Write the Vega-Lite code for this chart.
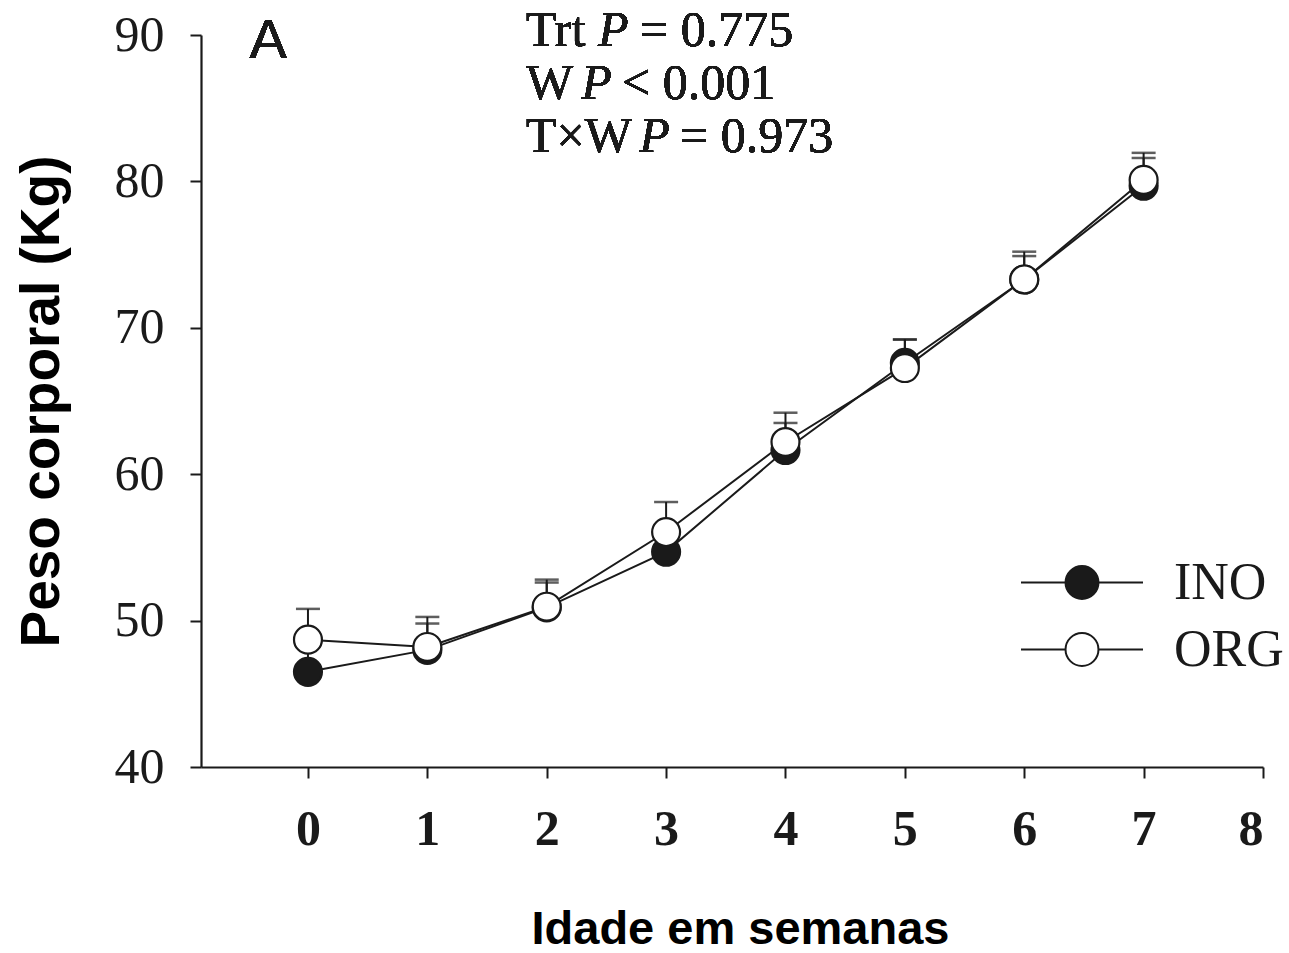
{
  "$schema": "https://vega.github.io/schema/vega-lite/v6.json",
  "width": 1062,
  "height": 732,
  "autosize": {"type": "none"},
  "padding": {"left": 201, "top": 35, "right": 26, "bottom": 186},
  "background": "white",
  "config": {
    "view": {"stroke": null},
    "axis": {"grid": false, "domainColor": "#1a1a1a", "tickColor": "#1a1a1a", "domainWidth": 2.2, "tickWidth": 2, "labelColor": "#1a1a1a", "titleColor": "#000000"}
  },
  "data": {
    "values": [
      {"week": 0, "group": "INO", "mean": 46.5, "upper": 48.3},
      {"week": 1, "group": "INO", "mean": 48.0, "upper": 49.8},
      {"week": 2, "group": "INO", "mean": 50.9, "upper": 52.6},
      {"week": 3, "group": "INO", "mean": 54.7, "upper": 56.5},
      {"week": 4, "group": "INO", "mean": 61.65, "upper": 63.5},
      {"week": 5, "group": "INO", "mean": 67.6, "upper": 69.2},
      {"week": 6, "group": "INO", "mean": 73.3, "upper": 74.9},
      {"week": 7, "group": "INO", "mean": 79.7, "upper": 81.6},
      {"week": 0, "group": "ORG", "mean": 48.7, "upper": 50.8},
      {"week": 1, "group": "ORG", "mean": 48.2, "upper": 50.25},
      {"week": 2, "group": "ORG", "mean": 50.95, "upper": 52.8},
      {"week": 3, "group": "ORG", "mean": 56.05, "upper": 58.1},
      {"week": 4, "group": "ORG", "mean": 62.2, "upper": 64.2},
      {"week": 5, "group": "ORG", "mean": 67.25, "upper": 69.2},
      {"week": 6, "group": "ORG", "mean": 73.3, "upper": 75.2},
      {"week": 7, "group": "ORG", "mean": 80.1, "upper": 81.95}
    ]
  },
  "encoding": {
    "x": {
      "field": "week", "type": "quantitative",
      "scale": {"domain": [-0.896, 8], "nice": false, "zero": false},
      "axis": {
        "values": [0, 1, 2, 3, 4, 5, 6, 7, 8],
        "title": "Idade em semanas",
        "titleFont": "Liberation Sans", "titleFontSize": 47, "titleFontWeight": "bold", "titlePadding": 52, "titleX": 539,
        "labelFont": "Liberation Serif", "labelFontSize": 50, "labelFontWeight": "bold", "labelPadding": 26,
        "tickSize": 11, "format": "d"
      }
    }
  },
  "layer": [
    {
      "mark": {"type": "rule", "color": "#1a1a1a", "strokeWidth": 2},
      "encoding": {
        "y": {"field": "mean", "type": "quantitative",
          "scale": {"domain": [40, 90], "nice": false, "zero": false},
          "axis": {
            "values": [40, 50, 60, 70, 80, 90],
            "title": "Peso corporal (Kg)",
            "titleFont": "Liberation Sans", "titleFontSize": 55, "titleFontWeight": "bold", "titlePadding": 44,
            "labelFont": "Liberation Serif", "labelFontSize": 50, "labelPadding": 26,
            "tickSize": 11
          }},
        "y2": {"field": "upper"}
      }
    },
    {
      "mark": {"type": "tick", "orient": "horizontal", "color": "#1a1a1a", "size": 24, "thickness": 2.5},
      "encoding": {"y": {"field": "upper", "type": "quantitative"}}
    },
    {
      "mark": {"type": "line", "color": "#1a1a1a", "strokeWidth": 2},
      "encoding": {"y": {"field": "mean", "type": "quantitative"}, "detail": {"field": "group"}}
    },
    {
      "mark": {"type": "point", "shape": "circle", "filled": true, "opacity": 1, "stroke": "#1a1a1a", "strokeWidth": 2.2, "size": 780},
      "encoding": {
        "y": {"field": "mean", "type": "quantitative"},
        "fill": {
          "field": "group", "type": "nominal",
          "scale": {"domain": ["INO", "ORG"], "range": ["#1a1a1a", "#ffffff"]},
          "legend": {
            "orient": "none", "legendX": 819, "legendY": 514, "title": null, "padding": 0,
            "symbolType": "M-1,0L-0.27,0M0.27,0L1,0M-0.27,0A0.27,0.27,0,1,1,0.27,0A0.27,0.27,0,1,1,-0.27,0Z",
            "symbolSize": 14884, "symbolStrokeColor": "#1a1a1a", "symbolStrokeWidth": 2, "symbolOpacity": 1,
            "clipHeight": 67, "rowPadding": 0, "labelOffset": 30,
            "labelFont": "Liberation Serif", "labelFontSize": 52, "labelColor": "#1a1a1a", "labelLimit": 300
          }
        }
      }
    },
    {
      "mark": {"type": "text", "font": "Liberation Sans", "fontSize": 56, "align": "left", "baseline": "alphabetic", "color": "#1a1a1a", "text": "A"},
      "encoding": {"x": {"datum": -0.49, "type": "quantitative"}, "y": {"datum": 88.43, "type": "quantitative"}}
    },
    {
      "mark": {"type": "text", "font": "Liberation Serif", "fontSize": 50, "align": "left", "baseline": "alphabetic", "color": "#1a1a1a", "text": "Trt"},
      "encoding": {"x": {"datum": 1.826, "type": "quantitative"}, "y": {"datum": 89.22, "type": "quantitative"}}
    },
    {
      "mark": {"type": "text", "font": "Liberation Serif", "fontSize": 50, "fontStyle": "italic", "align": "left", "baseline": "alphabetic", "color": "#1a1a1a", "text": "P"},
      "encoding": {"x": {"datum": 2.43, "type": "quantitative"}, "y": {"datum": 89.22, "type": "quantitative"}}
    },
    {
      "mark": {"type": "text", "font": "Liberation Serif", "fontSize": 50, "align": "left", "baseline": "alphabetic", "color": "#1a1a1a", "text": "= 0.775"},
      "encoding": {"x": {"datum": 2.781, "type": "quantitative"}, "y": {"datum": 89.22, "type": "quantitative"}}
    },
    {
      "mark": {"type": "text", "font": "Liberation Serif", "fontSize": 50, "align": "left", "baseline": "alphabetic", "color": "#1a1a1a", "text": "W"},
      "encoding": {"x": {"datum": 1.826, "type": "quantitative"}, "y": {"datum": 85.66, "type": "quantitative"}}
    },
    {
      "mark": {"type": "text", "font": "Liberation Serif", "fontSize": 50, "fontStyle": "italic", "align": "left", "baseline": "alphabetic", "color": "#1a1a1a", "text": "P"},
      "encoding": {"x": {"datum": 2.29, "type": "quantitative"}, "y": {"datum": 85.66, "type": "quantitative"}}
    },
    {
      "mark": {"type": "text", "font": "Liberation Serif", "fontSize": 50, "align": "left", "baseline": "alphabetic", "color": "#1a1a1a", "text": "< 0.001"},
      "encoding": {"x": {"datum": 2.63, "type": "quantitative"}, "y": {"datum": 85.66, "type": "quantitative"}}
    },
    {
      "mark": {"type": "text", "font": "Liberation Serif", "fontSize": 50, "align": "left", "baseline": "alphabetic", "color": "#1a1a1a", "text": "T×W"},
      "encoding": {"x": {"datum": 1.826, "type": "quantitative"}, "y": {"datum": 82.04, "type": "quantitative"}}
    },
    {
      "mark": {"type": "text", "font": "Liberation Serif", "fontSize": 50, "fontStyle": "italic", "align": "left", "baseline": "alphabetic", "color": "#1a1a1a", "text": "P"},
      "encoding": {"x": {"datum": 2.775, "type": "quantitative"}, "y": {"datum": 82.04, "type": "quantitative"}}
    },
    {
      "mark": {"type": "text", "font": "Liberation Serif", "fontSize": 50, "align": "left", "baseline": "alphabetic", "color": "#1a1a1a", "text": "= 0.973"},
      "encoding": {"x": {"datum": 3.116, "type": "quantitative"}, "y": {"datum": 82.04, "type": "quantitative"}}
    }
  ]
}
